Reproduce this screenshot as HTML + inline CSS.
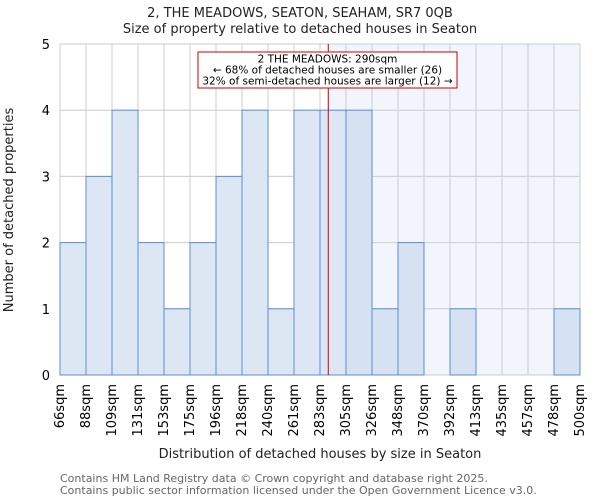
<!DOCTYPE html>
<html><head><meta charset="utf-8"><style>
body{margin:0;background:#fff;font-family:"DejaVu Sans","Liberation Sans",sans-serif;}
svg text{font-family:"DejaVu Sans","Liberation Sans",sans-serif;}
</style></head><body>
<svg id="chart" width="600" height="500" xmlns="http://www.w3.org/2000/svg">
<g id="g"></g>
</svg>
<script>
const edgeLabels=["66sqm","88sqm","109sqm","131sqm","153sqm","175sqm","196sqm","218sqm","240sqm","261sqm","283sqm","305sqm","326sqm","348sqm","370sqm","392sqm","413sqm","435sqm","457sqm","478sqm","500sqm"];
const edgeValues=[66,88,109,131,153,175,196,218,240,261,283,305,326,348,370,392,413,435,457,478,500];
const counts=[2,3,4,2,1,2,3,4,1,4,4,4,1,2,0,1,0,0,0,1];
const yTicks=[0,1,2,3,4,5];
const markerValue=290;
const NS="http://www.w3.org/2000/svg";
const g=document.getElementById('g');
const L=60,R=580,T=44,B=375,YMAX=5;
const nb=counts.length;
const bw=(R-L)/nb;
function xEdge(i){return L+i*bw;}
function xVal(v){let i=0;while(i<edgeValues.length-2&&v>edgeValues[i+1])i++;return xEdge(i)+(v-edgeValues[i])/(edgeValues[i+1]-edgeValues[i])*bw;}
function y(v){return B-(v/YMAX)*(B-T);}
function el(t,a,txt){const e=document.createElementNS(NS,t);for(const k in a)e.setAttribute(k,a[k]);if(txt!==undefined)e.textContent=txt;g.appendChild(e);return e;}
const mx=xVal(markerValue);
let e=el('rect',{x:mx,y:T,width:R-mx,height:B-T,fill:'#f2f5fc'});


for(let i=0;i<=nb;i++){e=el('line',{x1:xEdge(i),x2:xEdge(i),y1:T,y2:B,stroke:'#cccccc','stroke-width':1});

}
yTicks.forEach(t=>{e=el('line',{x1:L,x2:R,y1:y(t),y2:y(t),stroke:'#cccccc','stroke-width':1});


e=el('text',{x:L-10,y:y(t)+5,'text-anchor':'end','font-size':13,fill:'#000'},String(t));

});
counts.forEach((c,i)=>{if(c<=0)return;const right=xEdge(i)>=mx;
e=el('rect',{x:xEdge(i),y:y(c),width:bw,height:B-y(c),fill:right?'#d6e1f2':'#dde6f3',stroke:'#5b8fd6','stroke-width':1});

});
edgeLabels.forEach((s,i)=>{const x=xEdge(i)+4;
e=el('text',{x:x,y:384,'font-size':13,'text-anchor':'end',transform:`rotate(-90 ${x} 384)`,fill:'#000'},s);

});
e=el('line',{x1:mx,x2:mx,y1:T,y2:B,stroke:'#cc0000','stroke-width':1});


e=el('rect',{x:198,y:52,width:259,height:36,fill:'#fff',stroke:'#cc0000','stroke-width':1});


[["2 THE MEADOWS: 290sqm",62],["← 68% of detached houses are smaller (26)",73],["32% of semi-detached houses are larger (12) →",84]].forEach(a=>{
e=el('text',{x:327.5,y:a[1]+0.5,'text-anchor':'middle','font-size':10.5,fill:'#000'},a[0]);

});
e=el('text',{x:300,y:17,'text-anchor':'middle','font-size':13,fill:'#222'},"2, THE MEADOWS, SEATON, SEAHAM, SR7 0QB");


e=el('text',{x:300,y:33,'text-anchor':'middle','font-size':13,fill:'#222'},"Size of property relative to detached houses in Seaton");


e=el('text',{x:320,y:458,'text-anchor':'middle','font-size':13,fill:'#222'},"Distribution of detached houses by size in Seaton");


e=el('text',{x:13,y:210,'text-anchor':'middle','font-size':13,fill:'#222',transform:'rotate(-90 13 210)'},"Number of detached properties");


e=el('text',{x:60,y:482,'font-size':11,fill:'#666'},"Contains HM Land Registry data © Crown copyright and database right 2025.");


e=el('text',{x:60,y:494,'font-size':11,fill:'#666'},"Contains public sector information licensed under the Open Government Licence v3.0.");


</script>
</body></html>
